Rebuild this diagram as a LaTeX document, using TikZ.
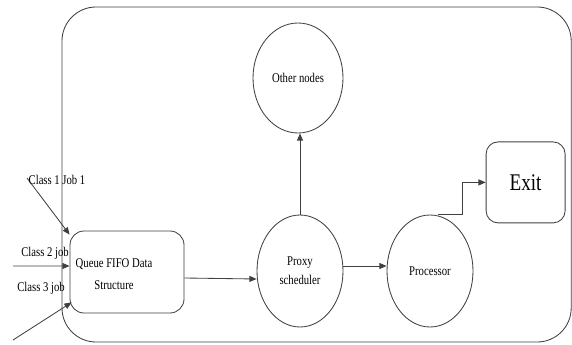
\documentclass[tikz,border=0pt]{standalone}
\usepackage{fontspec}
\setmainfont{Liberation Serif}[FakeStretch=0.8]
\usepackage{tikz}
\usetikzlibrary{positioning,calc,arrows.meta,shapes.geometric}

\begin{document}
\begin{tikzpicture}[
  ln/.style={draw=black!75, line width=0.6pt},
  arr/.style={ln, -{Triangle[length=1.8mm, width=1.5mm]}},
  txt/.style={font=\fontsize{9.5}{15.5}\selectfont, align=center,
    inner sep=0pt},
  circ/.style={ln, ellipse, minimum width=2.15cm, minimum height=2.8cm,
    inner sep=0pt, font=\fontsize{9.5}{15.5}\selectfont, align=center},
  rbox/.style={ln, rectangle, rounded corners=3.5mm, inner sep=0pt}
]
\useasboundingbox (0,0) rectangle (14.3,8.6);

% Outer frame
\draw[ln, rounded corners=8.5mm] (1.55,8.425) rectangle (14.28,0.05);

% Queue
\node[rbox, minimum width=2.85cm, minimum height=2.05cm] (Q) at (3.175,1.8) {};
\node[txt] (qtext) at (2.85,1.75) {Queue FIFO Data\\Structure};

% Circles
\node[circ, minimum width=2.25cm, minimum height=2.75cm] (O) at (7.45,6.65)
  {Other nodes};
\node[circ] (P) at (7.5,1.825) {\raisebox{-2pt}{Proxy}\\scheduler};
\node[circ] (C) at (10.75,1.825) {\raisebox{-3pt}{Processor}};

% Exit
\node[rbox, rounded corners=3mm, minimum width=1.975cm, minimum height=2.025cm,
  font=\fontsize{17}{20}\selectfont] (E) at (13.14,4.04) {Exit};

% Incoming jobs
\coordinate (j1) at (0.675,4.15);
\coordinate (j2) at (0.325,1.95);
\coordinate (j3) at (0.325,0.1);
\draw[arr] (j1) -- ([yshift=-1mm]Q.north west);
\draw[arr] (j2) -- ([yshift=1.5mm]Q.west);
\draw[arr] (j3) -- ([xshift=0.5mm, yshift=2.75mm]Q.south west);

\node[txt] (l1) at (1.425,4.1) {Class 1 Job 1};
\node[txt] (l2) at (1.125,2.275) {Class 2 job};
\node[txt] (l3) at (1.025,1.4) {Class 3 job};

% Flow
\draw[arr] ([yshift=-1.5mm]Q.east) -- ([yshift=-2mm]P.west);
\draw[arr] ([yshift=1.25mm]P.east) -- ([yshift=1.25mm]C.west);
\draw[arr] (P.north) -- (P.north |- O.south);
\draw[arr] ([xshift=2mm]C.north) -- ++(0.6,0) |- (E.west);
\end{tikzpicture}
\end{document}
